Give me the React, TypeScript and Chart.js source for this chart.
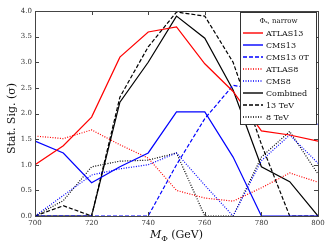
import React, { useEffect, useRef } from "react";
import { Chart, registerables } from "chart.js";

Chart.register(...registerables);

const mass = [700, 710, 720, 730, 740, 750, 760, 770, 780, 790, 800];
const atlas13 = [1.0, 1.37, 1.93, 3.1, 3.59, 3.69, 2.97, 2.43, 1.66, 1.58, 1.46];
const cms13 = [1.46, 1.23, 0.65, 0.96, 1.23, 2.03, 2.03, 1.15, 0, 0, 0];
const cms13_0T = [0, 0, 0, 0, 0, 1.0, 1.9, 2.55, 2.45, 2.15, 1.78];
const atlas8 = [1.56, 1.51, 1.68, 1.39, 1.13, 0.5, 0.35, 0.29, 0.55, 0.84, 0.66];
const cms8 = [0, 0.4, 0.8, 0.92, 1.0, 1.23, 0.6, 0, 1.08, 1.58, 1.03];
const combined = [0, 0, 0, 2.22, 3.0, 3.9, 3.47, 2.46, 0.96, 0.67, 0];
const tev13 = [0, 0.2, 0, 2.32, 3.3, 3.98, 3.9, 3.0, 1.4, 0, 0];
const tev8 = [0, 0.3, 0.96, 1.07, 1.09, 1.23, 0, 0, 1.15, 1.65, 0.82];

const xTicks = [700, 720, 740, 760, 780, 800];
const yTicks = [0, 0.5, 1.0, 1.5, 2.0, 2.5, 3.0, 3.5, 4.0];
const legendTitle = "Φₛ, narrow";

const RED = "#ff0000";
const BLUE = "#0000ff";
const BLACK = "#000000";
const DASH = [4, 2];
const DOT = [1, 1.5];

const series = [
  { label: "ATLAS13", data: atlas13, color: RED, dash: [] as number[] },
  { label: "CMS13", data: cms13, color: BLUE, dash: [] as number[] },
  { label: "CMS13 0T", data: cms13_0T, color: BLUE, dash: DASH },
  { label: "ATLAS8", data: atlas8, color: RED, dash: DOT },
  { label: "CMS8", data: cms8, color: BLUE, dash: DOT },
  { label: "Combined", data: combined, color: BLACK, dash: [] as number[] },
  { label: "13 TeV", data: tev13, color: BLACK, dash: DASH },
  { label: "8 TeV", data: tev8, color: BLACK, dash: DOT },
];

const FONT = "'DejaVu Serif', serif";

const overlay = {
  id: "overlay",
  afterDatasetsDraw(chart: any) {
    const ctx = chart.ctx as CanvasRenderingContext2D;
    const { left, right, top, bottom } = chart.chartArea;
    const xs = chart.scales.x;
    const ys = chart.scales.y;
    ctx.save();
    // frame
    ctx.strokeStyle = "#444";
    ctx.lineWidth = 1;
    ctx.setLineDash([]);
    ctx.strokeRect(Math.round(left) + 0.5, Math.round(top) + 0.5, Math.round(right - left), Math.round(bottom - top));
    // inward ticks
    const tl = 4;
    ctx.beginPath();
    xTicks.forEach((v) => {
      const px = Math.round(xs.getPixelForValue(v)) + 0.5;
      ctx.moveTo(px, bottom);
      ctx.lineTo(px, bottom - tl);
      ctx.moveTo(px, top);
      ctx.lineTo(px, top + tl);
    });
    yTicks.forEach((v) => {
      const py = Math.round(ys.getPixelForValue(v)) + 0.5;
      ctx.moveTo(left, py);
      ctx.lineTo(left + tl, py);
      ctx.moveTo(right, py);
      ctx.lineTo(right - tl, py);
    });
    ctx.stroke();

    // legend
    const lx = 240.5, ly = 12.5, lw = 76, lh = 112;
    ctx.fillStyle = "#ffffff";
    ctx.fillRect(lx, ly, lw, lh);
    ctx.strokeStyle = "#333";
    ctx.strokeRect(lx, ly, lw, lh);
    ctx.fillStyle = "#111";
    ctx.font = `7px ${FONT}`;
    ctx.textAlign = "center";
    ctx.textBaseline = "middle";
    ctx.fillText(legendTitle, lx + lw / 2, 21);
    ctx.font = `8px ${FONT}`;
    ctx.textAlign = "left";
    chart.data.datasets.forEach((ds: any, i: number) => {
      const y = 33 + 12 * i;
      ctx.strokeStyle = ds.borderColor;
      ctx.lineWidth = 1.4;
      ctx.setLineDash(ds.borderDash || []);
      ctx.beginPath();
      ctx.moveTo(243, y);
      ctx.lineTo(263, y);
      ctx.stroke();
      ctx.setLineDash([]);
      ctx.fillStyle = "#111";
      ctx.fillText(ds.label, 266, y + 0.5);
    });

    // axis titles
    ctx.fillStyle = "#111";
    ctx.save();
    ctx.font = `11px ${FONT}`;
    ctx.translate(12, (top + bottom) / 2 + 5);
    ctx.rotate(-Math.PI / 2);
    ctx.textAlign = "center";
    ctx.textBaseline = "middle";
    ctx.fillText("Stat. Sig. (σ)", 0, 0);
    ctx.restore();

    const fM = `italic 11px ${FONT}`;
    const fS = `8px ${FONT}`;
    const fR = `11px ${FONT}`;
    ctx.textAlign = "left";
    ctx.textBaseline = "alphabetic";
    ctx.font = fM;
    const wM = ctx.measureText("M").width;
    ctx.font = fS;
    const wS = ctx.measureText("Φ").width;
    ctx.font = fR;
    const wR = ctx.measureText(" (GeV)").width;
    const total = wM + wS + wR;
    let x0 = (left + right) / 2 - total / 2;
    const base = 238;
    ctx.font = fM;
    ctx.fillText("M", x0, base);
    x0 += wM;
    ctx.font = fS;
    ctx.fillText("Φ", x0, base + 3);
    x0 += wS;
    ctx.font = fR;
    ctx.fillText(" (GeV)", x0, base);
    ctx.restore();
  },
};

export default function App() {
  const ref = useRef<HTMLCanvasElement | null>(null);
  useEffect(() => {
    if (!ref.current) return;
    const chart = new Chart(ref.current, {
      type: "line",
      data: {
        datasets: series.map((s) => ({
          label: s.label,
          data: mass.map((m, i) => ({ x: m, y: s.data[i] })),
          borderColor: s.color,
          borderDash: s.dash,
          borderWidth: 1.2,
          pointRadius: 0,
          fill: false,
          tension: 0,
        })),
      },
      options: {
        responsive: false,
        animation: false,
        layout: { padding: { top: 11, right: 14, left: 0, bottom: 0 } },
        plugins: { legend: { display: false }, tooltip: { enabled: false } },
        scales: {
          x: {
            type: "linear",
            min: 700,
            max: 800,
            afterFit: (s: any) => { s.height = 33; },
            afterBuildTicks: (s: any) => { s.ticks = xTicks.map((v) => ({ value: v })); },
            grid: { display: false, drawTicks: false },
            border: { display: false },
            ticks: { padding: 3, color: "#333", font: { family: FONT, size: 7 }, maxRotation: 0, autoSkip: false },
          },
          y: {
            type: "linear",
            min: 0,
            max: 4,
            afterFit: (s: any) => { s.width = 35; },
            afterBuildTicks: (s: any) => { s.ticks = yTicks.map((v) => ({ value: v })); },
            grid: { display: false, drawTicks: false },
            border: { display: false },
            ticks: {
              padding: 3,
              color: "#333",
              font: { family: FONT, size: 7 },
              autoSkip: false,
              callback: (v: any) => Number(v).toFixed(1),
            },
          },
        },
      },
      plugins: [overlay],
    });
    return () => chart.destroy();
  }, []);
  return (
    <canvas
      ref={ref}
      width={332}
      height={249}
      style={{ position: "absolute", left: 0, top: 0, width: 332, height: 249 }}
    />
  );
}
